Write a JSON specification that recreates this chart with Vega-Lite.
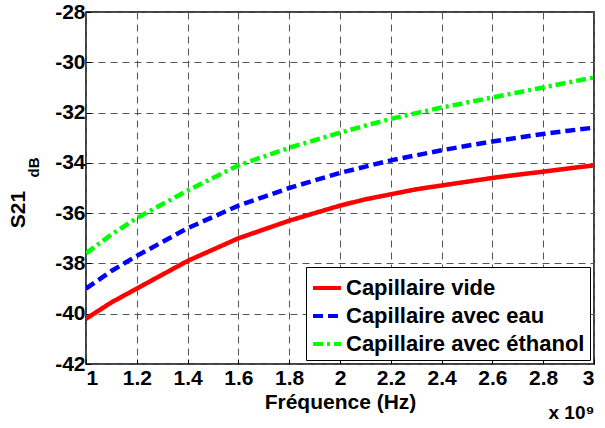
{
  "$schema": "https://vega.github.io/schema/vega-lite/v6.json",
  "width": 508,
  "height": 352,
  "autosize": {"type": "none"},
  "padding": {"left": 86, "top": 12, "right": 11, "bottom": 64},
  "background": "white",
  "config": {
    "font": "Liberation Sans",
    "view": {"stroke": "black", "strokeWidth": 1.5},
    "axis": {
      "labelFont": "Liberation Sans", "labelFontWeight": "bold", "labelFontSize": 21, "labelColor": "black",
      "titleFont": "Liberation Sans", "titleFontWeight": "bold", "titleFontSize": 21, "titleColor": "black",
      "grid": true, "gridColor": "#555", "gridDash": [7, 5], "gridWidth": 1, "gridOpacity": 1,
      "domain": false, "tickColor": "black", "tickSize": -5, "tickWidth": 1
    }
  },
  "title": {
    "text": "x 10⁹", "orient": "bottom", "anchor": "end", "font": "Liberation Sans",
    "fontSize": 19, "fontWeight": "bold", "color": "black", "offset": -8, "dx": 0
  },
  "data": {
    "values": [
      {"f": 1.0, "s": -40.2, "serie": "Capillaire vide"},
      {"f": 1.1, "s": -39.55, "serie": "Capillaire vide"},
      {"f": 1.2, "s": -39.0, "serie": "Capillaire vide"},
      {"f": 1.3, "s": -38.45, "serie": "Capillaire vide"},
      {"f": 1.4, "s": -37.9, "serie": "Capillaire vide"},
      {"f": 1.5, "s": -37.45, "serie": "Capillaire vide"},
      {"f": 1.6, "s": -37.0, "serie": "Capillaire vide"},
      {"f": 1.7, "s": -36.65, "serie": "Capillaire vide"},
      {"f": 1.8, "s": -36.3, "serie": "Capillaire vide"},
      {"f": 1.9, "s": -36.0, "serie": "Capillaire vide"},
      {"f": 2.0, "s": -35.7, "serie": "Capillaire vide"},
      {"f": 2.1, "s": -35.45, "serie": "Capillaire vide"},
      {"f": 2.2, "s": -35.25, "serie": "Capillaire vide"},
      {"f": 2.3, "s": -35.05, "serie": "Capillaire vide"},
      {"f": 2.4, "s": -34.9, "serie": "Capillaire vide"},
      {"f": 2.5, "s": -34.75, "serie": "Capillaire vide"},
      {"f": 2.6, "s": -34.6, "serie": "Capillaire vide"},
      {"f": 2.7, "s": -34.47, "serie": "Capillaire vide"},
      {"f": 2.8, "s": -34.35, "serie": "Capillaire vide"},
      {"f": 2.9, "s": -34.22, "serie": "Capillaire vide"},
      {"f": 3.0, "s": -34.1, "serie": "Capillaire vide"},
      {"f": 1.0, "s": -39.0, "serie": "Capillaire avec eau"},
      {"f": 1.1, "s": -38.3, "serie": "Capillaire avec eau"},
      {"f": 1.2, "s": -37.7, "serie": "Capillaire avec eau"},
      {"f": 1.3, "s": -37.15, "serie": "Capillaire avec eau"},
      {"f": 1.4, "s": -36.6, "serie": "Capillaire avec eau"},
      {"f": 1.5, "s": -36.15, "serie": "Capillaire avec eau"},
      {"f": 1.6, "s": -35.7, "serie": "Capillaire avec eau"},
      {"f": 1.7, "s": -35.35, "serie": "Capillaire avec eau"},
      {"f": 1.8, "s": -35.0, "serie": "Capillaire avec eau"},
      {"f": 1.9, "s": -34.7, "serie": "Capillaire avec eau"},
      {"f": 2.0, "s": -34.4, "serie": "Capillaire avec eau"},
      {"f": 2.1, "s": -34.15, "serie": "Capillaire avec eau"},
      {"f": 2.2, "s": -33.9, "serie": "Capillaire avec eau"},
      {"f": 2.3, "s": -33.7, "serie": "Capillaire avec eau"},
      {"f": 2.4, "s": -33.5, "serie": "Capillaire avec eau"},
      {"f": 2.5, "s": -33.32, "serie": "Capillaire avec eau"},
      {"f": 2.6, "s": -33.15, "serie": "Capillaire avec eau"},
      {"f": 2.7, "s": -33.0, "serie": "Capillaire avec eau"},
      {"f": 2.8, "s": -32.85, "serie": "Capillaire avec eau"},
      {"f": 2.9, "s": -32.72, "serie": "Capillaire avec eau"},
      {"f": 3.0, "s": -32.6, "serie": "Capillaire avec eau"},
      {"f": 1.0, "s": -37.6, "serie": "Capillaire avec éthanol"},
      {"f": 1.1, "s": -36.85, "serie": "Capillaire avec éthanol"},
      {"f": 1.2, "s": -36.2, "serie": "Capillaire avec éthanol"},
      {"f": 1.3, "s": -35.65, "serie": "Capillaire avec éthanol"},
      {"f": 1.4, "s": -35.1, "serie": "Capillaire avec éthanol"},
      {"f": 1.5, "s": -34.6, "serie": "Capillaire avec éthanol"},
      {"f": 1.6, "s": -34.1, "serie": "Capillaire avec éthanol"},
      {"f": 1.7, "s": -33.75, "serie": "Capillaire avec éthanol"},
      {"f": 1.8, "s": -33.4, "serie": "Capillaire avec éthanol"},
      {"f": 1.9, "s": -33.1, "serie": "Capillaire avec éthanol"},
      {"f": 2.0, "s": -32.8, "serie": "Capillaire avec éthanol"},
      {"f": 2.1, "s": -32.52, "serie": "Capillaire avec éthanol"},
      {"f": 2.2, "s": -32.25, "serie": "Capillaire avec éthanol"},
      {"f": 2.3, "s": -32.02, "serie": "Capillaire avec éthanol"},
      {"f": 2.4, "s": -31.8, "serie": "Capillaire avec éthanol"},
      {"f": 2.5, "s": -31.6, "serie": "Capillaire avec éthanol"},
      {"f": 2.6, "s": -31.4, "serie": "Capillaire avec éthanol"},
      {"f": 2.7, "s": -31.2, "serie": "Capillaire avec éthanol"},
      {"f": 2.8, "s": -31.0, "serie": "Capillaire avec éthanol"},
      {"f": 2.9, "s": -30.8, "serie": "Capillaire avec éthanol"},
      {"f": 3.0, "s": -30.6, "serie": "Capillaire avec éthanol"}
    ]
  },
  "layer": [
    {
      "mark": {"type": "line", "strokeWidth": 4.5, "clip": true},
      "encoding": {
        "x": {
          "field": "f", "type": "quantitative",
          "scale": {"domain": [1, 3], "nice": false, "zero": false},
          "axis": {"values": [1, 1.2, 1.4, 1.6, 1.8, 2, 2.2, 2.4, 2.6, 2.8, 3], "format": "~g", "title": "Fréquence (Hz)", "labelPadding": 8, "titlePadding": 3}
        },
        "y": {
          "field": "s", "type": "quantitative",
          "scale": {"domain": [-42, -28], "nice": false, "zero": false},
          "axis": {"values": [-42, -40, -38, -36, -34, -32, -30, -28], "labelExpr": "datum.value < 0 ? '-' + abs(datum.value) : '' + datum.value", "title": "S21", "titleFontSize": 21, "titleX": -58, "titleY": 197, "titleAngle": 270, "labelPadding": 6}
        },
        "color": {
          "field": "serie", "type": "nominal",
          "scale": {"domain": ["Capillaire vide", "Capillaire avec eau", "Capillaire avec éthanol"], "range": ["#ff0000", "#0000ff", "#00ff00"]},
          "legend": {
            "title": null, "orient": "bottom-right", "offset": 4,
            "strokeColor": "black", "fillColor": "white", "padding": 5,
            "labelFont": "Liberation Sans", "labelFontSize": 22, "labelFontWeight": "bold", "labelColor": "black", "labelLimit": 0,
            "symbolType": "stroke", "symbolSize": 784, "symbolStrokeWidth": 4, "rowPadding": 1, "labelOffset": 3
          }
        },
        "strokeDash": {
          "field": "serie", "type": "nominal",
          "scale": {"domain": ["Capillaire vide", "Capillaire avec eau", "Capillaire avec éthanol"], "range": [[1, 0], [10, 5], [10, 4, 3, 4]]},
          "legend": {
            "title": null, "orient": "bottom-right", "offset": 4,
            "strokeColor": "black", "fillColor": "white", "padding": 5,
            "labelFont": "Liberation Sans", "labelFontSize": 22, "labelFontWeight": "bold", "labelColor": "black", "labelLimit": 0,
            "symbolType": "stroke", "symbolSize": 784, "symbolStrokeWidth": 4, "rowPadding": 1, "labelOffset": 3
          }
        }
      }
    },
    {
      "mark": {"type": "line", "opacity": 0},
      "encoding": {
        "x": {"field": "f", "type": "quantitative", "scale": {"domain": [1, 3], "nice": false, "zero": false}},
        "y": {
          "field": "s", "type": "quantitative",
          "scale": {"domain": [-42, -28], "nice": false, "zero": false},
          "axis": {"orient": "left", "title": "dB", "titleFontSize": 15, "titleX": -45, "titleY": 155, "titleAngle": 270, "labels": false, "ticks": false, "grid": false, "domain": false}
        },
        "detail": {"field": "serie"}
      }
    }
  ],
  "resolve": {"scale": {"y": "independent"}}
}
